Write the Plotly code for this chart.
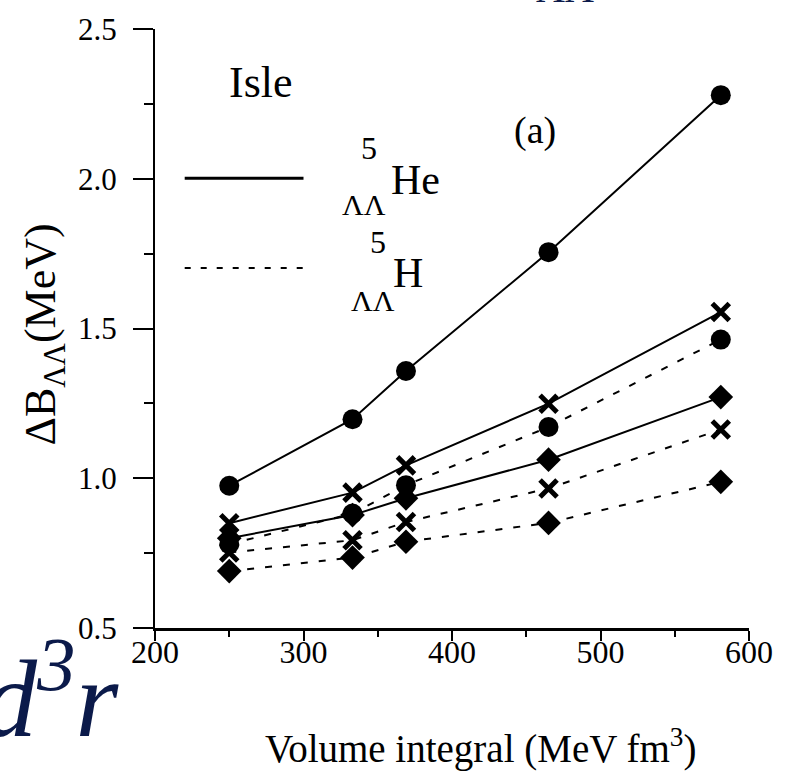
import plotly.graph_objects as go

# Volume integral values (MeV fm^3)
volume = [250, 333, 369, 465, 581]

# Delta B_LL (MeV) for 5He_LL (solid) and 5H_LL (dashed)
he_circle = [0.975, 1.197, 1.358, 1.755, 2.279]
he_cross = [0.850, 0.952, 1.043, 1.249, 1.555]
he_diamond = [0.800, 0.877, 0.933, 1.062, 1.271]
h_circle = [0.780, 0.882, 0.977, 1.171, 1.463]
h_cross = [0.752, 0.793, 0.854, 0.966, 1.163]
h_diamond = [0.690, 0.735, 0.788, 0.851, 0.988]

x_ticks = [200, 300, 400, 500, 600]
y_ticks = [0.5, 1.0, 1.5, 2.0, 2.5]

FONT = "Liberation Serif"
NAVY = "#0b1a4a"
DASH = "7px,11px"

series = [
    (he_circle, "circle", "solid"),
    (he_cross, "x-thin", "solid"),
    (he_diamond, "diamond", "solid"),
    (h_circle, "circle", DASH),
    (h_cross, "x-thin", DASH),
    (h_diamond, "diamond", DASH),
]

fig = go.Figure()
for ys, sym, dash in series:
    if sym == "circle":
        marker = dict(symbol="circle", size=20, color="black")
    elif sym == "diamond":
        marker = dict(symbol="diamond", size=19, color="black")
    else:
        marker = dict(symbol="x-thin", size=17, color="black",
                      line=dict(width=5, color="black"))
    fig.add_trace(go.Scatter(
        x=volume, y=ys, mode="lines+markers",
        line=dict(color="black", width=2, dash=dash),
        marker=marker, showlegend=False, cliponaxis=False))

fig.update_layout(
    width=785, height=774,
    margin=dict(l=155, r=27, t=28, b=146),
    paper_bgcolor="white", plot_bgcolor="white",
    font=dict(family=FONT, color="black", size=30),
    xaxis=dict(range=[200, 600], tickvals=x_ticks,
               ticktext=[str(v) for v in x_ticks],
               showgrid=False, zeroline=False,
               showline=True, linecolor="black", linewidth=3,
               ticks="outside", ticklen=10, tickwidth=1.5, tickcolor="black",
               minor=dict(ticks="outside", ticklen=6, dtick=50, tickwidth=1.5,
                          tickcolor="black"),
               ticklabelstandoff=-16,
               tickfont=dict(size=32, family=FONT)),
    yaxis=dict(range=[0.5, 2.5], tickvals=y_ticks,
               ticktext=[f"{v:.1f}" for v in y_ticks],
               showgrid=False, zeroline=False,
               showline=True, linecolor="black", linewidth=2,
               ticks="outside", ticklen=20, tickwidth=2, tickcolor="black",
               minor=dict(ticks="outside", ticklen=9, dtick=0.25, tickwidth=2,
                          tickcolor="black"),
               ticklabelstandoff=10,
               tickfont=dict(size=31, family=FONT)),
)

# legend sample lines
fig.add_shape(type="line", xref="paper", yref="paper",
              x0=0.05, x1=0.25, y0=0.751, y1=0.751,
              line=dict(color="black", width=3))
fig.add_shape(type="line", xref="paper", yref="paper",
              x0=0.05, x1=0.25, y0=0.601, y1=0.601,
              line=dict(color="black", width=2, dash="6px,10px"))


def ann(text, x, y, size, color="black", **kw):
    d = dict(text=text, x=x, y=y, xref="paper", yref="paper",
             xanchor="center", yanchor="middle", showarrow=False,
             font=dict(family=FONT, size=size, color=color))
    d.update(kw)
    fig.add_annotation(**d)


ann("Isle", 0.178, 0.910, 44)
ann("(a)", 0.640, 0.830, 38)
ann("5", 0.360, 0.802, 32)
ann("He", 0.438, 0.748, 42)
ann("ΛΛ", 0.352, 0.707, 30)
ann("5", 0.375, 0.645, 32)
ann("H", 0.426, 0.593, 42)
ann("ΛΛ", 0.367, 0.547, 30)

# axis titles
ann("ΔB<sub>ΛΛ</sub>(MeV)", -0.187, 0.49, 44, textangle=-90)
ann("Volume integral (MeV fm<sup>3</sup>)", 0.548, -0.197, 39)

# slide fragments around the chart
ann("<i>d<sup>3</sup>r</i>", -0.055, -0.105, 110, color=NAVY,
    xanchor="right")
ann("ΛΛ", 0.69, 1.027, 40, color=NAVY, yanchor="bottom")

fig.write_html("out.html")
